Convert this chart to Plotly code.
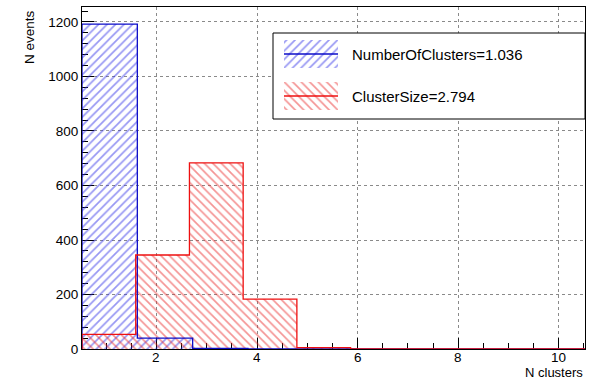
import plotly.graph_objects as go

# ---- data ----
blue_name = "NumberOfClusters=1.036"
red_name = "ClusterSize=2.794"
blue_edges = [0.52, 1.62, 2.72, 3.82, 4.92, 6.02, 7.12, 8.22, 9.32, 10.42, 11.52]
blue_counts = [1192, 40, 2, 0, 0, 0, 0, 0, 0, 0]
red_edges = [0.52, 1.588, 2.656, 3.724, 4.792, 5.86, 6.928, 7.996, 9.064, 10.132, 11.2]
red_counts = [54, 345, 683, 183, 5, 0, 0, 0, 0, 0]
x_ticks = [2, 4, 6, 8, 10]
y_ticks = [0, 200, 400, 600, 800, 1000, 1200]

# ---- style ----
W, H = 594, 381
L, R, T, B = 82, 585, 7, 349
FONT = "Liberation Sans, Arial, Helvetica, sans-serif"
BLUE_HATCH = "#2f2fe8"
BLUE_LINE = "#0c0cc8"
RED_HATCH = "#ea2a2a"
RED_LINE = "#ee1010"
HATCH_SIZE = 6
HATCH_SOL = 0.28


def centers(edges):
    return [(a + b) / 2 for a, b in zip(edges[:-1], edges[1:])]


def widths(edges):
    return [b - a for a, b in zip(edges[:-1], edges[1:])]


def contour(edges, counts):
    xs = [edges[0]] + list(edges)
    ys = [0] + list(counts) + [counts[-1]]
    return xs, ys


def py(pix):
    # pixel row -> paper fraction
    return (B - pix) / (B - T)


fig = go.Figure()

for edges, counts, hatch, shape in [
    (blue_edges, blue_counts, BLUE_HATCH, "/"),
    (red_edges, red_counts, RED_HATCH, "\\"),
]:
    fig.add_trace(go.Bar(
        x=centers(edges), y=counts, width=widths(edges),
        marker=dict(color=hatch, line=dict(width=0),
                    pattern=dict(shape=shape, fgcolor=hatch, bgcolor="rgba(0,0,0,0)",
                                 size=HATCH_SIZE, solidity=HATCH_SOL)),
        showlegend=False, hoverinfo="skip",
    ))

for edges, counts, col in [(blue_edges, blue_counts, BLUE_LINE), (red_edges, red_counts, RED_LINE)]:
    xs, ys = contour(edges, counts)
    fig.add_trace(go.Scatter(x=xs, y=ys, mode="lines", line=dict(color=col, width=1.3, shape="hv"),
                             showlegend=False, hoverinfo="skip"))

# ---- custom legend on a pixel overlay axis ----
LX0, LX1, LY0, LY1 = 273, 585, 33, 119
fig.add_trace(go.Scatter(
    x=[LX0, LX1, LX1, LX0, LX0], y=[LY0, LY0, LY1, LY1, LY0], xaxis="x2", yaxis="y2",
    mode="lines", fill="toself", fillcolor="white", line=dict(color="black", width=1),
    showlegend=False, hoverinfo="skip"))

entries = [
    (blue_name, BLUE_HATCH, BLUE_LINE, "/", 40, 68),
    (red_name, RED_HATCH, RED_LINE, "\\", 82, 110),
]
for name, hatch, linec, shape, y0, y1 in entries:
    sx0, sx1 = 284, 338
    fig.add_trace(go.Scatter(
        x=[sx0, sx1, sx1, sx0, sx0], y=[y0, y0, y1, y1, y0], xaxis="x2", yaxis="y2",
        mode="lines", fill="toself", fillcolor="rgba(0,0,0,0)", line=dict(width=0, color="rgba(0,0,0,0)"),
        fillpattern=dict(shape=shape, fgcolor=hatch, bgcolor="rgba(0,0,0,0)", size=HATCH_SIZE,
                         solidity=HATCH_SOL),
        showlegend=False, hoverinfo="skip"))
    ym = (y0 + y1) / 2
    fig.add_trace(go.Scatter(
        x=[sx0, sx1], y=[ym, ym], xaxis="x2", yaxis="y2", mode="lines",
        line=dict(color=linec, width=1.3), showlegend=False, hoverinfo="skip"))
    fig.add_annotation(x=350, y=ym, xref="x2", yref="y2", text=name, showarrow=False,
                       xanchor="left", yanchor="middle", font=dict(size=15, color="black", family=FONT))

axis_common = dict(
    showline=True, linecolor="black", linewidth=1, mirror=True,
    ticks="inside", tickcolor="black", tickwidth=1,
    showgrid=True, gridcolor="#8a8a8a", gridwidth=1, griddash="dot",
    zeroline=False, tickfont=dict(size=13.5, color="black", family=FONT),
    layer="below traces",
)

fig.update_layout(
    width=W, height=H,
    margin=dict(l=L, r=W - R, t=T, b=H - B, pad=0),
    paper_bgcolor="white", plot_bgcolor="white",
    barmode="overlay", bargap=0,
    font=dict(family=FONT, color="black"),
    xaxis=dict(range=[0.52, 10.52], tickvals=x_ticks, ticklen=11, showticklabels=False,
               minor=dict(dtick=0.5, ticks="inside", ticklen=6, tickcolor="black", showgrid=False),
               **axis_common),
    yaxis=dict(range=[0, 1255], tickvals=y_ticks, ticklen=12,
               minor=dict(dtick=40, ticks="inside", ticklen=6, tickcolor="black", showgrid=False),
               **axis_common),
    xaxis2=dict(overlaying="x", range=[L, R], visible=False, anchor="y2", domain=[0, 1]),
    yaxis2=dict(overlaying="y", range=[B, T], visible=False, anchor="x2", domain=[0, 1]),
    showlegend=False,
)

# x tick labels placed through the x axis scale
for v in x_ticks:
    fig.add_annotation(text=str(v), x=v, xref="x", y=py(357), yref="paper",
                       xanchor="center", yanchor="middle", showarrow=False,
                       font=dict(size=13.5, color="black", family=FONT))

fig.add_annotation(text="N clusters", xref="paper", yref="paper", x=1, y=py(372.5),
                   xanchor="right", yanchor="middle", showarrow=False,
                   font=dict(size=13, color="black", family=FONT))
fig.add_annotation(text="N events", xref="paper", yref="paper", x=(30 - L) / (R - L), y=py(8),
                   xanchor="center", yanchor="top", textangle=-90, showarrow=False,
                   font=dict(size=13.5, color="black", family=FONT))

fig.write_html("out.html")
